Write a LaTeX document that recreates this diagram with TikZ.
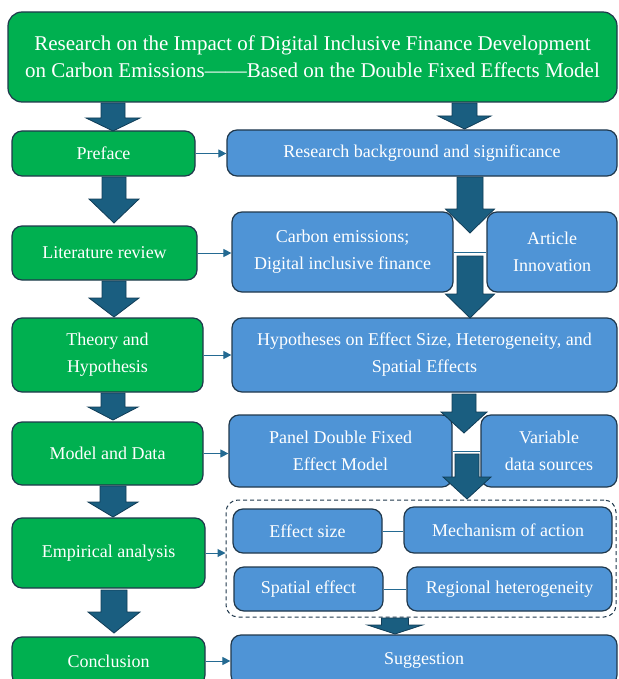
\documentclass[tikz,border=0pt]{standalone}
\usepackage{fontspec}
\setmainfont{Liberation Serif}
\usetikzlibrary{arrows.meta}
\definecolor{gfill}{RGB}{0,176,80}
\definecolor{bfill}{RGB}{79,148,214}
\definecolor{edgec}{RGB}{32,56,76}
\definecolor{arrowc}{RGB}{26,94,128}
\definecolor{arrowe}{RGB}{16,60,86}
\definecolor{thinc}{RGB}{36,106,146}
\newcommand\blockarrow[7]{% cx, top, headstart, tip, half shaft, half head, name
  \path[bigarrow] (#1-#5,#2) -- (#1+#5,#2) -- (#1+#5,#3) -- (#1+#6,#3) -- (#1,#4)
    -- (#1-#6,#3) -- (#1-#5,#3) -- cycle;
  \coordinate (#7) at (#1,#4);}
\begin{document}
\begin{tikzpicture}[x=1pt,y=-1pt,
  box/.style={draw=edgec, line width=1.2pt, rounded corners=10pt, text=white,
    align=center, inner sep=0pt, font=\fontsize{18}{27}\selectfont},
  gbox/.style={box, fill=gfill},
  bbox/.style={box, fill=bfill},
  bigarrow/.style={fill=arrowc, draw=arrowe, line width=0.8pt, line join=miter},
  link/.style={draw=thinc, line width=1pt, -{Triangle[length=8pt,width=8pt]}},
  joinline/.style={draw=thinc, line width=1pt},
  dashbox/.style={draw=edgec, line width=1pt, dash pattern=on 4pt off 3pt, rounded corners=12pt}]
\useasboundingbox (0,0) rectangle (618,679);
\clip (0,0) rectangle (618,679);

% title
\node[gbox, rounded corners=14pt, minimum width=609, minimum height=90,
  font=\fontsize{21}{27}\selectfont] (title) at (312.5,57)
  {Research on the Impact of Digital Inclusive Finance Development\\on Carbon Emissions------Based on the Double Fixed Effects Model};

% left column
\node[gbox, minimum width=183, minimum height=45] (preface) at (103.5,153.5) {Preface};
\node[gbox, minimum width=185, minimum height=54] (lit) at (104.5,253) {Literature review};
\node[gbox, minimum width=191, minimum height=74] (theory) at (107.5,355) {Theory and\\Hypothesis};
\node[gbox, minimum width=191, minimum height=63] (model) at (107.5,453.5) {Model and Data};
\node[gbox, minimum width=193, minimum height=70] (emp) at (108.5,553) {Empirical analysis};
\node[gbox, minimum width=193, minimum height=48] (conc) at (108.5,661) {Conclusion};

% right column
\node[bbox, minimum width=390, minimum height=46] (research) at (422,153) {Research background and significance};
\node[bbox, minimum width=221, minimum height=80] (carbon) at (342.5,252) {Carbon emissions;\\Digital inclusive finance};
\node[bbox, minimum width=130, minimum height=80] (article) at (552,252) {Article\\Innovation};
\node[bbox, minimum width=385, minimum height=74] (hyp) at (424.5,355) {Hypotheses on Effect Size, Heterogeneity, and\\Spatial Effects};
\node[bbox, minimum width=223, minimum height=72] (panel) at (340.5,451) {Panel Double Fixed\\Effect Model};
\node[bbox, minimum width=136, minimum height=72] (variable) at (549,451) {Variable\\data sources};
\node[dashbox, minimum width=390, minimum height=117] (dash) at (421,558.5) {};
\node[bbox, minimum width=149, minimum height=44] (effect) at (307.5,531) {Effect size};
\node[bbox, minimum width=208, minimum height=46] (mech) at (508,530) {Mechanism of action};
\node[bbox, minimum width=149, minimum height=44] (spatial) at (308.5,589) {Spatial effect};
\node[bbox, minimum width=205, minimum height=44] (regional) at (509.5,589) {Regional heterogeneity};
\node[bbox, minimum width=386, minimum height=50] (sugg) at (424,660) {Suggestion};

% joins
\draw[joinline] (carbon.east) -- (carbon.east -| article.west);
\draw[joinline] (panel.east) -- (panel.east -| variable.west);
\draw[joinline] (effect.east) -- (effect.east -| mech.west);
\draw[joinline] (spatial.east) -- (spatial.east -| regional.west);

% small arrows
\draw[link] (preface.east) -- (preface.east -| research.west);
\draw[link] (lit.east) -- (lit.east -| carbon.west);
\draw[link] (theory.east) -- (theory.east -| hyp.west);
\draw[link] (model.east) -- (model.east -| panel.west);
\draw[link] (emp.east) -- (emp.east -| dash.west);
\draw[link] (conc.east) -- (conc.east -| sugg.west);

% block arrows left
\blockarrow{113}{103}{118}{131}{12}{27}{la1}
\blockarrow{114}{177}{199}{223}{12}{25}{la2}
\blockarrow{114}{281}{298}{317}{12}{25}{la3}
\blockarrow{113}{393}{407}{420}{12}{25}{la4}
\blockarrow{113}{486}{502}{517}{13}{25}{la5}
\blockarrow{114}{590}{612}{633}{13}{26}{la6}

% block arrows right
\blockarrow{464.5}{103}{116}{129}{12.5}{26.5}{ra1}
\blockarrow{470}{177}{209}{233}{13}{24.5}{ra2}
\blockarrow{470}{256}{294}{318}{13}{24.5}{ra3}
\blockarrow{464}{394}{412}{433}{12}{23}{ra4}
\blockarrow{467}{454}{477}{499}{12}{24}{ra5}
\blockarrow{395}{618}{625}{634}{13.5}{27.5}{ra6}
\end{tikzpicture}
\end{document}
